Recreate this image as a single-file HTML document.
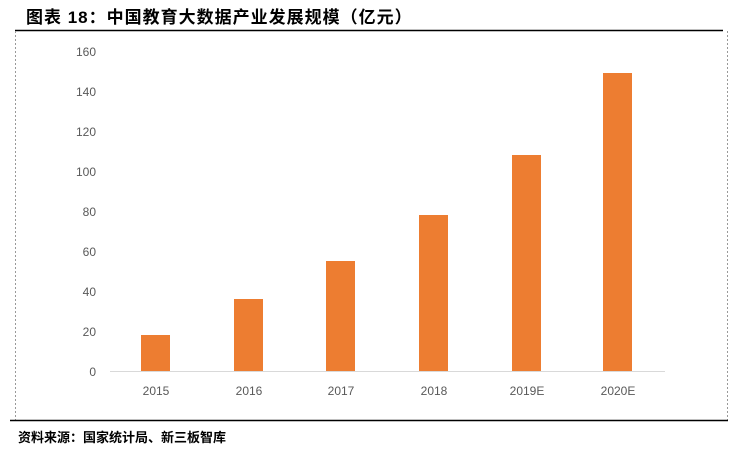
<!DOCTYPE html>
<html><head><meta charset="utf-8"><style>
body{margin:0;width:744px;height:455px;background:#fff;overflow:hidden;font-family:"Liberation Sans","Noto Sans CJK SC",sans-serif}
</style></head><body>
<svg width="744" height="455" xmlns="http://www.w3.org/2000/svg" style="position:absolute;left:0;top:0">
<text x="26" y="23" font-size="17" font-weight="bold" fill="#000" letter-spacing="1" font-family="Liberation Sans,Noto Sans CJK SC,sans-serif">图表 18：中国教育大数据产业发展规模（亿元）</text>
<line x1="15" y1="30.5" x2="723" y2="30.5" stroke="#000" stroke-width="1.5"/>
<line x1="15.5" y1="31" x2="15.5" y2="420" stroke="#999" stroke-dasharray="2,2"/>
<line x1="727.5" y1="31" x2="727.5" y2="420" stroke="#999" stroke-dasharray="2,2"/>
<line x1="10" y1="420.5" x2="728" y2="420.5" stroke="#000" stroke-width="1.5"/>
<g font-size="12" fill="#595959" text-anchor="end">
<text x="96" y="56">160</text><text x="96" y="96">140</text><text x="96" y="136">120</text><text x="96" y="176">100</text>
<text x="96" y="216">80</text><text x="96" y="256">60</text><text x="96" y="296">40</text><text x="96" y="336">20</text><text x="96" y="376">0</text>
</g>
<line x1="110" y1="371.5" x2="665" y2="371.5" stroke="#d9d9d9"/>
<g fill="#ED7D31">
<rect x="141" y="335" width="29" height="36"/>
<rect x="234" y="299" width="29" height="72"/>
<rect x="326" y="261" width="29" height="110"/>
<rect x="419" y="215" width="29" height="156"/>
<rect x="512" y="155" width="29" height="216"/>
<rect x="603" y="73" width="29" height="298"/>
</g>
<g font-size="12" fill="#595959" text-anchor="middle">
<text x="156" y="395">2015</text><text x="249" y="395">2016</text><text x="341" y="395">2017</text>
<text x="434" y="395">2018</text><text x="527" y="395">2019E</text><text x="618" y="395">2020E</text>
</g>
<text x="18" y="442" font-size="13" font-weight="bold" fill="#000" font-family="Liberation Sans,Noto Sans CJK SC,sans-serif">资料来源：国家统计局、新三板智库</text>
</svg>
</body></html>
